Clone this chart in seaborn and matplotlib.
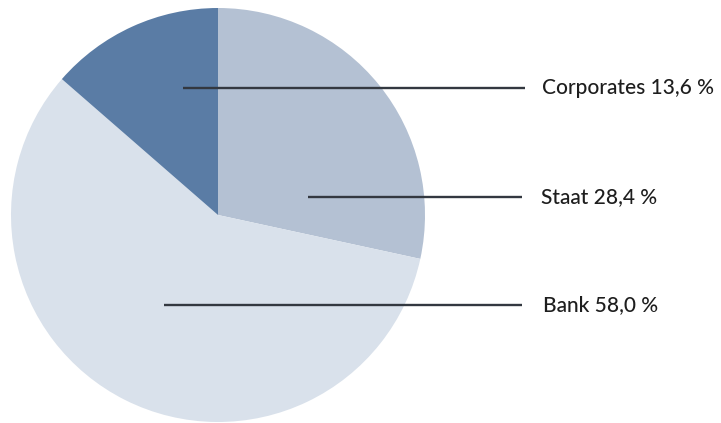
import matplotlib
matplotlib.use("Agg")
import matplotlib.pyplot as plt
import seaborn as sns

# ---------------------- Data ----------------------
labels = ["Staat", "Bank", "Corporates"]
shares = [28.4, 58.0, 13.6]
colors = ["#b4c1d3", "#d9e1eb", "#5a7ca5"]

# ---------------------- Style ----------------------
sns.set_theme(style="white")
plt.rcParams['font.family'] = ['Lato', 'DejaVu Sans']

W, H = 721, 423
fig = plt.figure(figsize=(W / 100, H / 100), dpi=100)
ax = fig.add_axes([0, 0, 1, 1])

cx, cy, r = 218, H - 215, 207
ax.pie(shares, colors=colors, startangle=90, counterclock=False,
       center=(cx, cy), radius=r, frame=True,
       wedgeprops=dict(linewidth=0))
ax.set_xlim(0, W)
ax.set_ylim(0, H)
ax.set_aspect('equal')
ax.axis('off')

# leader lines + labels (pixel positions)
leaders = {
    "Corporates": (183, 525, 88, 542),
    "Staat": (308, 522, 197, 541),
    "Bank": (164, 522, 305, 543),
}
for lab, val in zip(labels, shares):
    x0, x1, y, xt = leaders[lab]
    ax.plot([x0, x1], [H - y, H - y], color="#333840", lw=1.7,
            solid_capstyle='butt')
    txt = f"{lab} {val:.1f} %".replace(".", ",")
    ax.text(xt, H - y, txt, fontsize=15, color="#1e1e1e",
            ha='left', va='center', fontweight='medium')

fig.savefig("out.png", dpi=100)
